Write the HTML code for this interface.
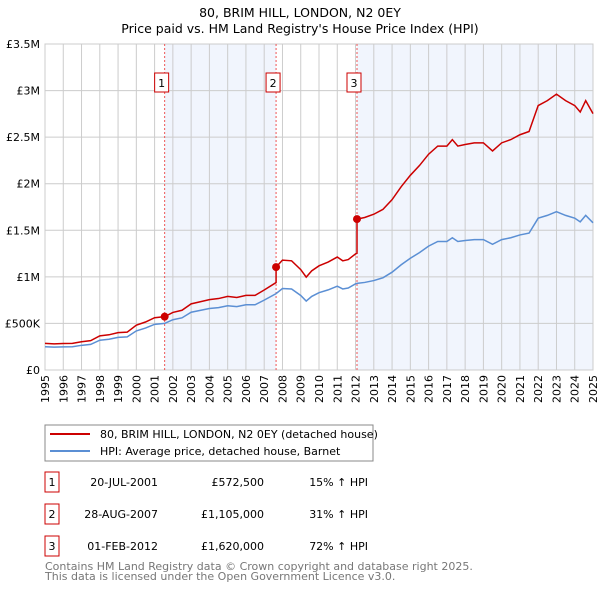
<!DOCTYPE html>
<html><head><meta charset="utf-8"><style>
body{margin:0;background:#fff;font-family:"DejaVu Sans","Liberation Sans",sans-serif}
svg text{font-family:"DejaVu Sans","Liberation Sans",sans-serif}
</style></head><body>
<svg id="chart" width="600" height="590" viewBox="0 0 600 590" xmlns="http://www.w3.org/2000/svg">
<text x="300" y="17" text-anchor="middle" font-size="12.5">80, BRIM HILL, LONDON, N2 0EY</text>
<text x="300" y="33" text-anchor="middle" font-size="12.5">Price paid vs. HM Land Registry's House Price Index (HPI)</text>
<g id="plot"></g>
<g>
<rect x="45" y="425" width="328" height="36" fill="#fff" stroke="#888"/>
<line x1="50" y1="434" x2="90" y2="434" stroke="#cc0000" stroke-width="2"/>
<text x="100" y="438" font-size="11">80, BRIM HILL, LONDON, N2 0EY (detached house)</text>
<line x1="50" y1="451" x2="90" y2="451" stroke="#5b8fd4" stroke-width="2"/>
<text x="100" y="455" font-size="11">HPI: Average price, detached house, Barnet</text>
</g>
<g id="table" font-size="11"></g>
<text x="45" y="570" font-size="11" fill="#777">Contains HM Land Registry data © Crown copyright and database right 2025.</text>
<text x="45" y="580" font-size="11" fill="#777">This data is licensed under the Open Government Licence v3.0.</text>
</svg>
<script>
const hpiYears=[1995,1995.5,1996,1996.5,1997,1997.5,1998,1998.5,1999,1999.5,2000,2000.5,2001,2001.55,2002,2002.5,2003,2003.5,2004,2004.5,2005,2005.5,2006,2006.5,2007,2007.65,2008,2008.5,2009,2009.3,2009.6,2010,2010.5,2011,2011.3,2011.6,2012,2012.08,2012.5,2013,2013.5,2014,2014.5,2015,2015.5,2016,2016.5,2017,2017.3,2017.6,2018,2018.5,2019,2019.5,2020,2020.5,2021,2021.5,2022,2022.5,2023,2023.5,2024,2024.3,2024.6,2025];
const hpiValues=[250000,245000,248000,250000,265000,275000,320000,330000,350000,355000,420000,450000,490000,500000,540000,560000,620000,640000,660000,670000,690000,680000,700000,700000,750000,820000,875000,870000,800000,740000,790000,830000,860000,900000,870000,880000,925000,930000,940000,960000,990000,1050000,1130000,1200000,1260000,1330000,1380000,1380000,1420000,1380000,1390000,1400000,1400000,1350000,1400000,1420000,1450000,1470000,1630000,1660000,1700000,1660000,1630000,1590000,1660000,1580000];
const saleYears=[2001.55,2007.65,2012.08];
const salePrices=[572500,1105000,1620000];
const saleLabels=["1","2","3"];
const saleDates=["20-JUL-2001","28-AUG-2007","01-FEB-2012"];
const salePriceText=["£572,500","£1,105,000","£1,620,000"];
const saleHpiText=["15% ↑ HPI","31% ↑ HPI","72% ↑ HPI"];
const yTicks=[0,500000,1000000,1500000,2000000,2500000,3000000,3500000];
const yTickLabels=["£0","£500K","£1M","£1.5M","£2M","£2.5M","£3M","£3.5M"];
const xTicks=[1995,1996,1997,1998,1999,2000,2001,2002,2003,2004,2005,2006,2007,2008,2009,2010,2011,2012,2013,2014,2015,2016,2017,2018,2019,2020,2021,2022,2023,2024,2025];

const X0=45,X1=593,Y0=370,Y1=44;
const xs=v=>X0+(v-1995)/30*(X1-X0);
const ys=v=>Y0-v/3500000*(Y0-Y1);
const NS="http://www.w3.org/2000/svg";
const plot=document.getElementById('plot');
function mk(tag,attrs,parent){const e=document.createElementNS(NS,tag);for(const k in attrs)e.setAttribute(k,attrs[k]);(parent||plot).appendChild(e);return e;}
function hpiAt(t){for(let i=0;i<hpiYears.length-1;i++){if(t>=hpiYears[i]&&t<=hpiYears[i+1]){const f=(t-hpiYears[i])/(hpiYears[i+1]-hpiYears[i]);return hpiValues[i]+f*(hpiValues[i+1]-hpiValues[i]);}}return hpiValues[hpiValues.length-1];}

const sh1=mk('rect',{x:xs(saleYears[0]),y:Y1,width:xs(saleYears[1])-xs(saleYears[0]),height:Y0-Y1,fill:'#eef3fc',opacity:0.8});


const sh2=mk('rect',{x:xs(saleYears[2]),y:Y1,width:X1-xs(saleYears[2]),height:Y0-Y1,fill:'#eef3fc',opacity:0.8});


xTicks.forEach(t=>{const g=mk('line',{x1:xs(t),x2:xs(t),y1:Y1,y2:Y0,stroke:'#ccc','stroke-width':1});


const grp=mk('g',{transform:`translate(${xs(t)+4},${Y0+5}) rotate(-90)`});
const l=mk('text',{x:0,y:0,'text-anchor':'end','font-size':11},grp);
l.textContent=t;

});
yTicks.forEach((t,i)=>{const g=mk('line',{x1:X0,x2:X1,y1:ys(t),y2:ys(t),stroke:'#ccc','stroke-width':1});


const l=mk('text',{x:40,y:ys(t)+4,'text-anchor':'end','font-size':11});
l.textContent=yTickLabels[i];

});
mk('rect',{x:X0,y:Y1,width:X1-X0,height:Y0-Y1,fill:'none',stroke:'#ccc'});
saleYears.forEach((s,i)=>{const v=mk('line',{x1:xs(s),x2:xs(s),y1:Y1,y2:Y0,stroke:'#e55','stroke-width':1,'stroke-dasharray':'2,2'});


const b=mk('rect',{x:xs(s)-10,y:73,width:14,height:19,fill:'#fff',stroke:'#cc0000'});


const t=mk('text',{x:xs(s)-3,y:87,'text-anchor':'middle','font-size':11});
t.textContent=saleLabels[i];

});
const hp=mk('polyline',{points:hpiYears.map((y,i)=>xs(y)+','+ys(hpiValues[i])).join(' '),fill:'none',stroke:'#5b8fd4','stroke-width':1.5});


const pts=[];
hpiYears.forEach((y,i)=>{let k=0;for(let j=0;j<saleYears.length;j++)if(y>=saleYears[j])k=j;
if(y===saleYears[k]&&k>0){pts.push([y,salePrices[k-1]*hpiValues[i]/hpiAt(saleYears[k-1])]);}
pts.push([y,salePrices[k]*hpiValues[i]/hpiAt(saleYears[k])]);});
const pl=mk('polyline',{points:pts.map(p=>xs(p[0])+','+ys(p[1])).join(' '),fill:'none',stroke:'#cc0000','stroke-width':1.5});


saleYears.forEach((s,i)=>{const c=mk('circle',{cx:xs(s),cy:ys(salePrices[i]),r:4,fill:'#cc0000'});

});
const tb=document.getElementById('table');
saleYears.forEach((s,i)=>{const y=482+i*32;
const b=mk('rect',{x:45,y:y-10,width:14,height:20,fill:'#fff',stroke:'#cc0000'},tb);


const vals=[[52,'middle',saleLabels[i]],[158,'end',saleDates[i]],[264,'end',salePriceText[i]],[368,'end',saleHpiText[i]]];
vals.forEach(v=>{const t=mk('text',{x:v[0],y:y+4,'text-anchor':v[1],'font-size':11},tb);
t.textContent=v[2];

});});
</script>
</body></html>
